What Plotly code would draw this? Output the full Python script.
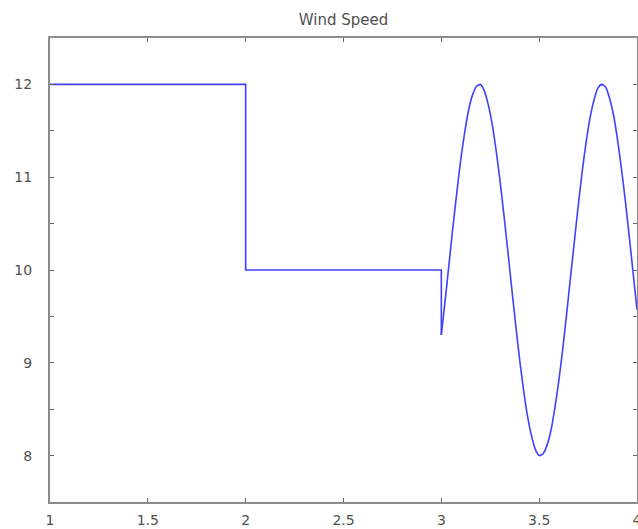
import plotly.graph_objects as go

# Step segment (time, wind speed)
step_x = [1.0, 2.0, 2.0, 3.0, 3.0]
step_y = [12.0, 12.0, 10.0, 10.0, 9.30]

# Oscillating segment
osc_x = [3.00, 3.02, 3.04, 3.06, 3.08, 3.10, 3.12, 3.14, 3.16, 3.18, 3.20,
         3.22, 3.24, 3.26, 3.28, 3.30, 3.32, 3.34, 3.36, 3.38, 3.40,
         3.42, 3.44, 3.46, 3.48, 3.50, 3.52, 3.54, 3.56, 3.58, 3.60,
         3.62, 3.64, 3.66, 3.68, 3.70, 3.72, 3.74, 3.76, 3.78, 3.80,
         3.82, 3.84, 3.86, 3.88, 3.90, 3.92, 3.94, 3.96, 3.98, 4.00]
osc_y = [9.30, 9.68, 10.08, 10.48, 10.85, 11.20, 11.49, 11.73, 11.89, 11.98, 12.00,
         11.93, 11.78, 11.57, 11.29, 10.96, 10.59, 10.20, 9.80, 9.41, 9.04,
         8.71, 8.43, 8.22, 8.07, 8.00, 8.02, 8.11, 8.27, 8.51, 8.80,
         9.14, 9.52, 9.92, 10.31, 10.70, 11.06, 11.38, 11.64, 11.83, 11.96,
         12.00, 11.97, 11.85, 11.67, 11.41, 11.10, 10.75, 10.37, 9.97, 9.57]

x_ticks = [1, 1.5, 2, 2.5, 3, 3.5, 4]
x_labels = ["1", "1.5", "2", "2.5", "3", "3.5", "4"]
y_ticks = [8, 8.5, 9, 9.5, 10, 10.5, 11, 11.5, 12]
y_labels = ["8", "", "9", "", "10", "", "11", "", "12"]

line_style = dict(color="#4040ff", width=1.6)

fig = go.Figure()
fig.add_trace(go.Scatter(x=step_x, y=step_y, mode="lines",
                         line=dict(shape="linear", **line_style), hoverinfo="skip"))
fig.add_trace(go.Scatter(x=osc_x, y=osc_y, mode="lines",
                         line=dict(shape="spline", smoothing=0.6, **line_style),
                         hoverinfo="skip"))

axis_common = dict(showline=True, linecolor="#8c8c8c", linewidth=2, mirror="ticks",
                   ticks="inside", ticklen=4, tickwidth=1, tickcolor="#666666",
                   showgrid=False, zeroline=False, ticklabeloverflow="allow",
                   automargin=False,
                   tickfont=dict(family="DejaVu Sans", size=14, color="#505050"))

W, H = 638, 529
fig.update_layout(
    width=W, height=H,
    margin=dict(l=50, r=1, t=38, b=27),
    paper_bgcolor="white", plot_bgcolor="white",
    showlegend=False,
    title=dict(text="Wind Speed", x=0.5, xref="paper", y=1 - 20 / H, yref="container",
               xanchor="center", yanchor="middle",
               font=dict(family="DejaVu Sans", size=15, color="#505050")),
    xaxis=dict(range=[1, 4], tickvals=x_ticks, ticktext=x_labels,
               ticklabelstandoff=4, **axis_common),
    yaxis=dict(range=[7.5, 12.5], tickvals=y_ticks, ticktext=y_labels,
               ticklabelstandoff=13, **axis_common),
)

fig.write_html(
    "out.html",
    config={"displayModeBar": False},
    post_script="document.body.style.margin='0';document.documentElement.style.overflow='hidden';",
)
